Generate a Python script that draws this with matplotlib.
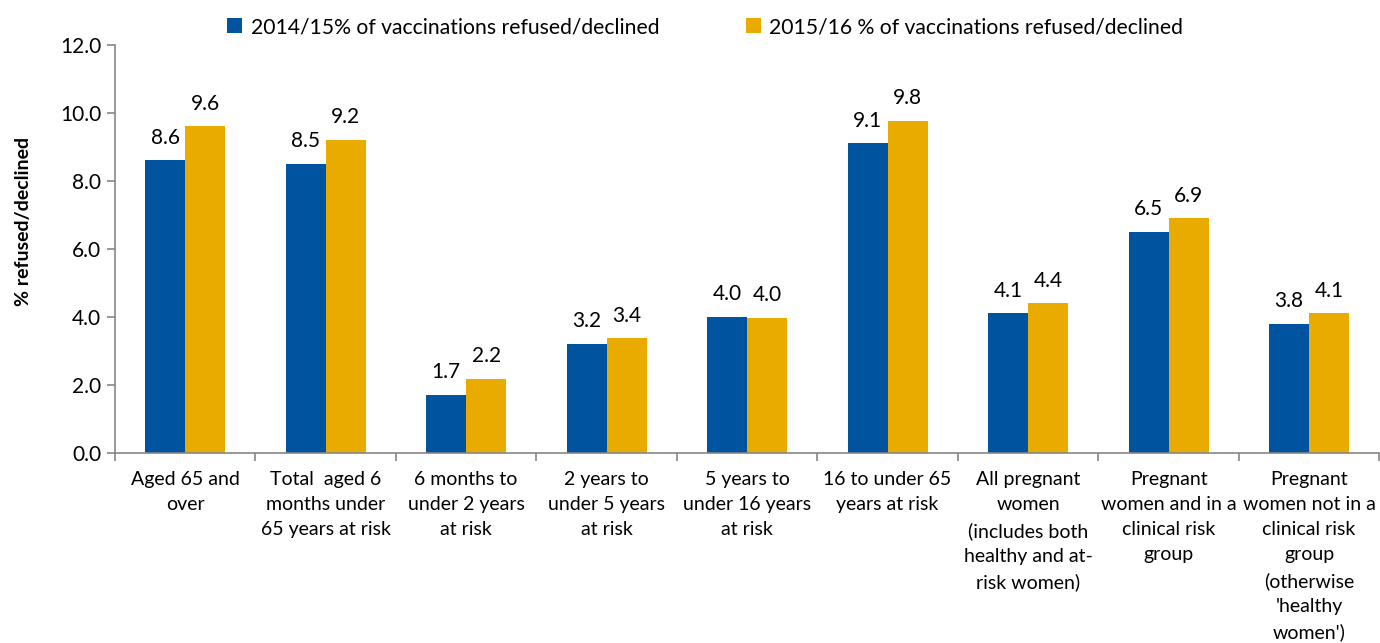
import numpy as np
import matplotlib.pyplot as plt

plt.rcParams['font.family'] = ['Lato', 'DejaVu Sans']

categories = ['Aged 65 and\nover',
              'Total  aged 6\nmonths under\n65 years at risk',
              '6 months to\nunder 2 years\nat risk',
              '2 years to\nunder 5 years\nat risk',
              '5 years to\nunder 16 years\nat risk',
              '16 to under 65\nyears at risk',
              'All pregnant\nwomen\n(includes both\nhealthy and at-\nrisk women)',
              'Pregnant\nwomen and in a\nclinical risk\ngroup',
              "Pregnant\nwomen not in a\nclinical risk\ngroup\n(otherwise\n'healthy\nwomen')"]
refused_1415 = [8.6, 8.5, 1.7, 3.2, 4.0, 9.1, 4.1, 6.5, 3.8]
refused_1516 = [9.6, 9.2, 2.17, 3.37, 3.97, 9.76, 4.4, 6.9, 4.1]
series_names = ['2014/15% of vaccinations refused/declined',
                '2015/16 % of vaccinations refused/declined']
colors = ['#00549F', '#E9AB00']

fig = plt.figure(figsize=(13.8, 6.43), dpi=100)
ax = fig.add_axes([0.0833, 0.2955, 0.9162, 0.635])

x = np.arange(len(categories))
w = 0.285
for i, vals in enumerate([refused_1415, refused_1516]):
    pos = x + (i - 0.5) * w
    ax.bar(pos, vals, width=w, color=colors[i], label=series_names[i])
    for xp, v in zip(pos, vals):
        ax.annotate('%.1f' % v, (xp, v), xytext=(0, 12), textcoords='offset points',
                    ha='center', va='baseline', fontsize=15)

ax.set_xlim(-0.5, len(categories) - 0.5)
ax.set_ylim(0, 12)
ax.set_yticks(np.arange(0, 12.1, 2))
ax.set_yticklabels(['%.1f' % t for t in np.arange(0, 12.1, 2)], fontsize=15)
ax.set_xticks(x)
ax.set_xticklabels(categories, fontsize=14, linespacing=1.58)
ax.set_xticks(np.arange(-0.5, len(categories), 1), minor=True)
ax.tick_params(axis='x', which='major', length=0, pad=13)
ax.tick_params(axis='x', which='minor', length=6, color='#868686', width=1.2)
ax.tick_params(axis='y', length=6, color='#868686', width=1.2, pad=4)

for s in ['top', 'right']:
    ax.spines[s].set_visible(False)
for s in ['left', 'bottom']:
    ax.spines[s].set_color('#868686')
    ax.spines[s].set_linewidth(1.2)

ax.set_ylabel('% refused/declined', fontsize=14, fontweight='bold')
ax.yaxis.set_label_coords(-0.066, 0.566)

fig.legend(loc='center', bbox_to_anchor=(0.511, 0.958), ncol=2, frameon=False,
           fontsize=15.2, handlelength=0.7, handleheight=0.7, columnspacing=4.1,
           handletextpad=0.4)

fig.savefig('out.png', dpi=100)
